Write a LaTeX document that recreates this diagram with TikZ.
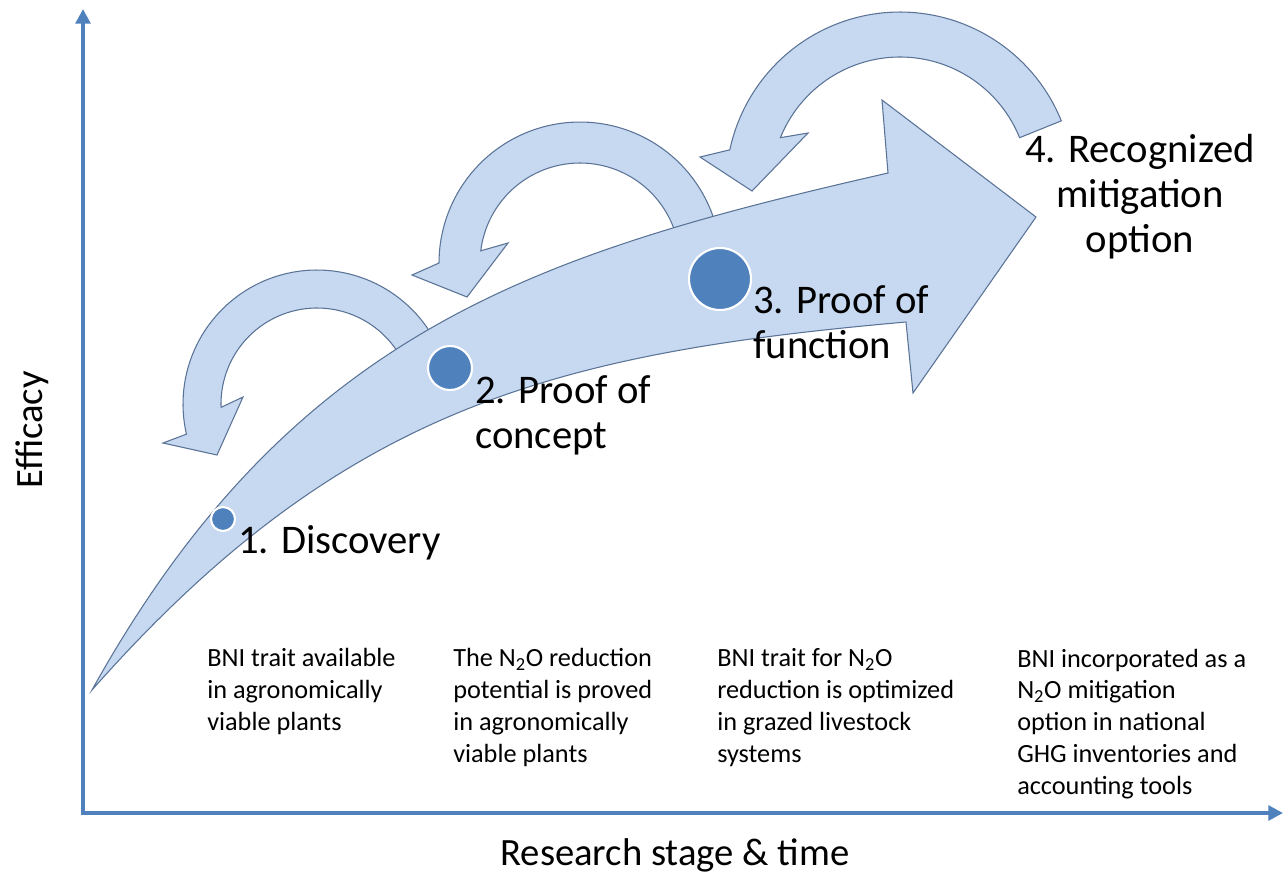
\documentclass[tikz,border=0pt]{standalone}
\usepackage{fontspec}
\setmainfont{Carlito}
\usetikzlibrary{arrows.meta}
\definecolor{arrowfill}{RGB}{198,217,241}
\definecolor{arrowline}{RGB}{90,115,150}
\definecolor{axisblue}{RGB}{79,129,189}
\definecolor{dotblue}{RGB}{79,129,189}
\begin{document}
\begin{tikzpicture}[x=0.75pt,y=-0.75pt,
  shapefill/.style={fill=arrowfill, draw=arrowline, line width=0.8pt, line join=miter},
  axisline/.style={draw=axisblue, line width=3.2pt, line join=miter, {Triangle[length=11pt,width=11pt]}-{Triangle[length=11pt,width=11pt]}},
  dot/.style={circle, fill=dotblue, draw=white, line width=1.6pt, inner sep=0pt},
  stagelabel/.style={font=\fontsize{30.5}{33.75}\selectfont, inner sep=0pt},
  desc/.style={font=\fontsize{19.7}{23.8}\selectfont, align=left, anchor=base west, inner sep=0pt},
  axislabel/.style={font=\fontsize{29}{34}\selectfont, inner sep=0pt}]
\useasboundingbox (0,0) rectangle (1286,876);

% axes
\coordinate (ytop) at (83,9);
\coordinate (orig) at (83,813);
\coordinate (xend) at (1283,813);
\draw[axisline] (ytop) -- (orig) -- (xend);

% curved return arrows (drawn beneath the main arrow)
\draw[shapefill] plot[domain=-25:-193, samples=70] ({317+134*cos(\x)},{404+134*sin(\x)})
  -- (163,443) -- (217,455) -- (243,397)
  -- plot[domain=-182:-25, samples=70] ({317+96*cos(\x)},{404+96*sin(\x)}) -- cycle;
\draw[shapefill] plot[domain=-10:-180, samples=70] ({580+141*cos(\x)},{263+141*sin(\x)})
  -- (412,275) -- (467,297) -- (508,243)
  -- plot[domain=-173:-10, samples=70] ({580+100*cos(\x)},{263+100*sin(\x)}) -- cycle;
\draw[shapefill] plot[domain=-22:-168, samples=70] ({900+174*cos(\x)},{186+174*sin(\x)})
  -- (700,157) -- (752,191) -- (808,133)
  -- plot[domain=-158:-22, samples=70] ({900+129*cos(\x)},{186+129*sin(\x)}) -- cycle;

% main arrow
\coordinate (tail) at (92,690);
\coordinate (un) at (888,173);
\coordinate (tb) at (882,100);
\coordinate (tip) at (1036,217);
\coordinate (bb) at (913,393);
\coordinate (ln) at (906,322);
\draw[shapefill] (tail) .. controls (292,330) and (538,253) .. (un) -- (tb) -- (tip) -- (bb) -- (ln)
  .. controls (555,353) and (342,407) .. (tail) -- cycle;

% stage dots
\node[dot, minimum size=18pt] (d1) at (223,519) {};
\node[dot, minimum size=33pt] (d2) at (450,368) {};
\node[dot, minimum size=46.5pt] (d3) at (720,279) {};

% stage labels (base anchor = baseline of the last line)
\node[stagelabel, anchor=base west] (s1) at (238,553) {1. Discovery};
\node[stagelabel, anchor=base west, align=left] (s2) at (475,448) {2. Proof of\\concept};
\node[stagelabel, anchor=base west, align=left] (s3) at (753,358) {3. Proof of\\function};
\node[stagelabel, anchor=base, align=center] (s4) at (1140,252) {4. Recognized\\mitigation\\option};

% descriptions (base anchor = baseline of the last line)
\node[desc] (t1) at (207,730) {BNI trait available\\in agronomically\\viable plants};
\node[desc] (t2) at (453,762) {The N\textsubscript{2}O reduction\\potential is proved\\in agronomically\\viable plants};
\node[desc] (t3) at (717,762) {BNI trait for N\textsubscript{2}O\\reduction is optimized\\in grazed livestock\\systems};
\node[desc] (t4) at (1017,794) {BNI incorporated as a\\N\textsubscript{2}O mitigation\\option in national\\GHG inventories and\\accounting tools};

% axis labels
\node[axislabel, anchor=base] (xl) at (675,865) {Research stage \& time};
\node[axislabel, rotate=90] (yl) at (32,430) {Efficacy};
\end{tikzpicture}
\end{document}
